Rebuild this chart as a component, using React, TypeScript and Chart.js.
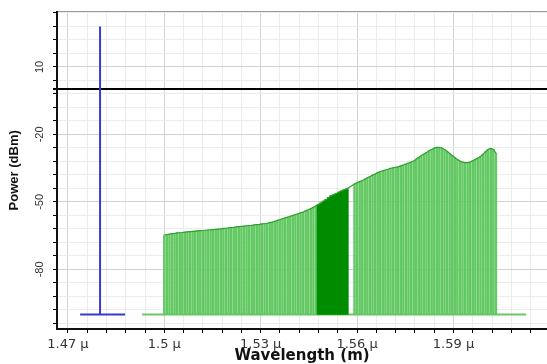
import React, { useEffect, useRef } from "react";
import { Chart, registerables } from "chart.js";

Chart.register(...registerables);

// ---- data (wavelengths in nm, powers in dBm) ----
const channelWavelengthNm = [
  1500.0, 1500.8, 1501.6, 1502.4, 1503.2, 1504.0, 1504.8, 1505.6, 1506.4, 1507.2,
  1508.0, 1508.8, 1509.6, 1510.4, 1511.2, 1512.0, 1512.8, 1513.6, 1514.4, 1515.2,
  1516.0, 1516.8, 1517.6, 1518.4, 1519.2, 1520.0, 1520.8, 1521.6, 1522.4, 1523.2,
  1524.0, 1524.8, 1525.6, 1526.4, 1527.2, 1528.0, 1528.8, 1529.6, 1530.4, 1531.2,
  1532.0, 1532.8, 1533.6, 1534.4, 1535.2, 1536.0, 1536.8, 1537.6, 1538.4, 1539.2,
  1540.0, 1540.8, 1541.6, 1542.4, 1543.2, 1544.0, 1544.8, 1545.6, 1546.4, 1547.2,
  1548.0, 1548.8, 1549.6, 1550.4, 1551.2, 1552.0, 1552.8, 1553.6, 1554.4, 1555.2,
  1556.0, 1556.8,
  1559.2, 1560.0, 1560.8, 1561.6, 1562.4, 1563.2, 1564.0, 1564.8, 1565.6, 1566.4,
  1567.2, 1568.0, 1568.8, 1569.6, 1570.4, 1571.2, 1572.0, 1572.8, 1573.6, 1574.4,
  1575.2, 1576.0, 1576.8, 1577.6, 1578.4, 1579.2, 1580.0, 1580.8, 1581.6, 1582.4,
  1583.2, 1584.0, 1584.8, 1585.6, 1586.4, 1587.2, 1588.0, 1588.8, 1589.6, 1590.4,
  1591.2, 1592.0, 1592.8, 1593.6, 1594.4, 1595.2, 1596.0, 1596.8, 1597.6, 1598.4,
  1599.2, 1600.0, 1600.8, 1601.6, 1602.4, 1603.2,
];
const channelPowerDbm = [
  -64.7, -64.5, -64.3, -64.1, -64.0, -63.8, -63.7, -63.6, -63.4, -63.3,
  -63.2, -63.1, -63.0, -62.9, -62.8, -62.7, -62.6, -62.5, -62.4, -62.3,
  -62.2, -62.1, -62.0, -61.8, -61.7, -61.5, -61.4, -61.3, -61.1, -61.0,
  -60.9, -60.8, -60.6, -60.5, -60.4, -60.2, -60.1, -60.0, -59.8, -59.7,
  -59.5, -59.2, -59.0, -58.6, -58.2, -57.9, -57.5, -57.1, -56.8, -56.4,
  -56.0, -55.6, -55.3, -54.9, -54.5, -54.0, -53.5, -53.0, -52.4, -51.8,
  -51.1, -50.4, -49.6, -48.9, -48.0, -47.2, -46.7, -46.2, -45.6, -45.1,
  -44.6, -44.2,
  -42.0, -41.5, -41.0, -40.5, -39.9, -39.3, -38.7, -38.1, -37.6, -37.0,
  -36.5, -36.2, -35.8, -35.5, -35.1, -34.8, -34.6, -34.4, -34.0, -33.6,
  -33.2, -32.7, -32.3, -31.8, -31.0, -30.2, -29.4, -28.7, -28.0, -27.3,
  -26.7, -26.1, -25.8, -25.7, -26.1, -26.7, -27.5, -28.5, -29.4, -30.3,
  -31.1, -31.8, -32.3, -32.5, -32.5, -32.3, -31.7, -31.1, -30.5, -29.8,
  -28.8, -27.6, -26.6, -26.2, -26.6, -28.3,
];
const denseBandNm = [1547.6, 1557.0];
const pumpWavelengthNm = [1480];
const pumpPowerDbm = [28];
const pumpFloorSpanNm = [1473.8, 1487.8];
const signalFloorSpanNm = [1493.1, 1612.6];
const noiseFloorDbm = -100;

const xMajorTicksNm = [1470, 1500, 1530, 1560, 1590];
const yMajorTicksDbm = [10, -20, -50, -80];
const xRangeNm = [1466.6, 1619.1];
const yRangeDbm = [-106.5, 34.6];

const xTickValues: number[] = [];
for (let v = 1470; v <= 1614; v += 6) xTickValues.push(v);
const yTickValues: number[] = [0];
for (let v = 34; v >= -104; v -= 6) yTickValues.push(v);

export default function App() {
  const canvasRef = useRef<HTMLCanvasElement | null>(null);

  useEffect(() => {
    const canvas = canvasRef.current;
    if (!canvas) return;

    const inBand = (w: number) => w >= denseBandNm[0] && w <= denseBandNm[1];
    const lightBars = channelWavelengthNm
      .map((w, i) => ({ x: w, y: [noiseFloorDbm, channelPowerDbm[i]] }))
      .filter((p) => !inBand(p.x));
    const denseBars = channelWavelengthNm
      .map((w, i) => ({ x: w, y: [noiseFloorDbm, channelPowerDbm[i]] }))
      .filter((p) => inBand(p.x));
    const envelope = channelWavelengthNm.map((w, i) => ({ x: w, y: channelPowerDbm[i] }));
    const pumpLine = [
      { x: pumpFloorSpanNm[0], y: noiseFloorDbm },
      { x: pumpWavelengthNm[0], y: noiseFloorDbm },
      { x: pumpWavelengthNm[0], y: pumpPowerDbm[0] },
      { x: pumpWavelengthNm[0], y: noiseFloorDbm },
      { x: pumpFloorSpanNm[1], y: noiseFloorDbm },
    ];
    const signalFloor = [
      { x: signalFloorSpanNm[0], y: noiseFloorDbm },
      { x: signalFloorSpanNm[1], y: noiseFloorDbm },
    ];

    const chart = new Chart(canvas, {
      type: "line",
      data: {
        datasets: [
          {
            type: "line",
            data: pumpLine,
            borderColor: "#3a3acc",
            borderWidth: 2,
            pointRadius: 0,
            tension: 0,
          },
          {
            type: "line",
            data: envelope,
            borderColor: "#2f9f2f",
            borderWidth: 1.2,
            pointRadius: 0,
            tension: 0,
          },
          {
            type: "bar",
            data: denseBars as any,
            backgroundColor: "#008c00",
            borderWidth: 0,
            barThickness: 3,
            grouped: false,
          } as any,
          {
            type: "bar",
            data: lightBars as any,
            backgroundColor: "#62c862",
            borderWidth: 0,
            barThickness: 1.8,
            grouped: false,
          } as any,
          {
            type: "line",
            data: signalFloor,
            borderColor: "#66c866",
            borderWidth: 2,
            pointRadius: 0,
          },
        ],
      },
      options: {
        responsive: false,
        animation: false,
        layout: { padding: { top: 9, right: 0, left: 0, bottom: 0 } },
        plugins: { legend: { display: false }, tooltip: { enabled: false } },
        scales: {
          x: {
            type: "linear",
            position: "bottom",
            min: xRangeNm[0],
            max: xRangeNm[1],
            offset: false,
            afterBuildTicks: (s: any) => {
              s.ticks = xTickValues.map((v) => ({ value: v }));
            },
            afterFit: (s: any) => {
              s.height = 35;
            },
            grid: {
              offset: false,
              color: (c: any) =>
                c.tick && xMajorTicksNm.includes(c.tick.value) ? "#d2d2d2" : "#ececec",
              tickColor: "#000",
              tickLength: 4,
              drawTicks: true,
            },
            border: { color: "#111", width: 2 },
            ticks: {
              autoSkip: false,
              maxRotation: 0,
              minRotation: 0,
              padding: 4,
              color: "#333",
              font: { family: "DejaVu Sans", size: 13 },
              callback: (v: any) =>
                xMajorTicksNm.includes(v) ? `${+(v / 1000).toFixed(3)} μ` : "",
            },
            title: {
              display: true,
              text: "Wavelength (m)",
              color: "#111",
              font: { family: "DejaVu Sans", size: 15, weight: "bold", lineHeight: 1 },
              padding: { top: 0, bottom: 0 },
            },
          },
          xTop: {
            type: "linear",
            position: "top",
            min: xRangeNm[0],
            max: xRangeNm[1],
            afterFit: (s: any) => {
              s.height = 0;
            },
            grid: { display: false, drawTicks: false },
            ticks: { display: false },
            border: { display: true, color: "#999", width: 1, dash: [2, 1] },
          },
          y: {
            type: "linear",
            min: yRangeDbm[0],
            max: yRangeDbm[1],
            afterBuildTicks: (s: any) => {
              s.ticks = yTickValues.map((v) => ({ value: v }));
            },
            afterFit: (s: any) => {
              s.width = 57;
            },
            grid: {
              color: (c: any) =>
                c.tick && c.tick.value === 0
                  ? "#000"
                  : c.tick && yMajorTicksDbm.includes(c.tick.value)
                  ? "#d2d2d2"
                  : "#ececec",
              lineWidth: (c: any) => (c.tick && c.tick.value === 0 ? 2 : 1),
              tickColor: "#000",
              tickLength: 4,
            },
            border: { color: "#111", width: 2 },
            ticks: {
              autoSkip: false,
              minRotation: 90,
              maxRotation: 90,
              crossAlign: "center",
              padding: 5,
              color: "#333",
              font: { family: "Liberation Sans", size: 11 },
              callback: (v: any) => (yMajorTicksDbm.includes(v) ? String(v) : ""),
            },
            title: {
              display: true,
              text: "Power (dBm)",
              color: "#111",
              font: { family: "Liberation Sans", size: 13, weight: "bold", lineHeight: 1.2 },
              padding: { top: 7, bottom: 0 },
            },
          },
        },
      } as any,
    });

    return () => chart.destroy();
  }, []);

  return (
    <div style={{ position: "fixed", left: 0, top: 0, width: 547, height: 364, background: "#fff" }}>
      <canvas ref={canvasRef} width={547} height={364} style={{ display: "block" }} />
    </div>
  );
}
